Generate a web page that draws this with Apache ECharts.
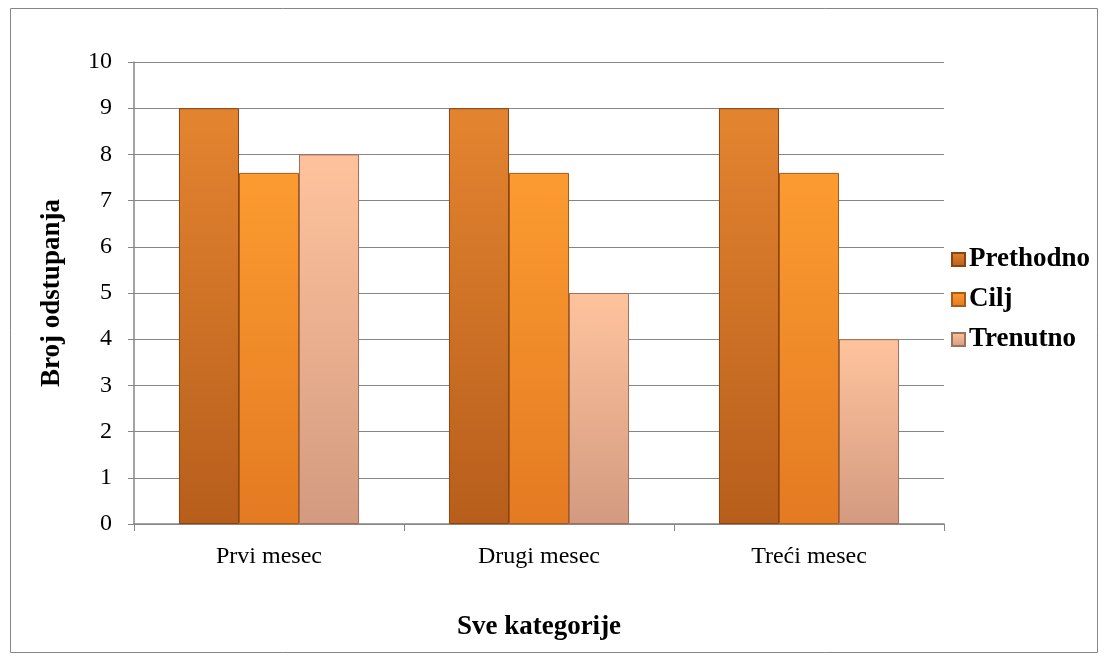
<!DOCTYPE html>
<html><head><meta charset="utf-8">
<script src="https://cdn.jsdelivr.net/npm/echarts@6/dist/echarts.min.js"></script>
<style>html,body{margin:0;padding:0;background:#fff}#c{width:1104px;height:657px}</style>
</head><body><div id="c"></div>
<script>
const categories = ['Prvi mesec', 'Drugi mesec', 'Treći mesec'];
const seriesNames = ['Prethodno', 'Cilj', 'Trenutno'];
const prethodno = [9, 9, 9];
const cilj = [7.6, 7.6, 7.6];
const trenutno = [8, 5, 4];
const yTicks = [0, 10, 1];

const font = "'Liberation Serif', 'Times New Roman', serif";
function grad(top, bottom) {
  return new echarts.graphic.LinearGradient(0, 0, 0, 1, [
    {offset: 0, color: top}, {offset: 0.04, color: top}, {offset: 1, color: bottom}
  ]);
}
const styles = [
  {color: grad('#e2832f', '#b75e1c'), borderColor: '#8a4410'},
  {color: grad('#fb9a30', '#e47a22'), borderColor: '#a85a18'},
  {color: grad('#fdc29c', '#d39a80'), borderColor: '#a0705a'}
];
const data = [prethodno, cilj, trenutno];
const chart = echarts.init(document.getElementById('c'));
chart.setOption({
  animation: false,
  grid: {left: 134, top: 62, right: 160, bottom: 133},
  legend: {
    orient: 'vertical', left: 946, top: 241, itemGap: 13,
    itemWidth: 13, itemHeight: 13, icon: 'rect', itemTextGap: 4,
    textStyle: {fontFamily: font, fontSize: 27, fontWeight: 'bold', color: '#000', padding: [0, 0, 0, -1]},
    data: seriesNames
  },
  xAxis: {
    type: 'category', data: categories,
    name: 'Sve kategorije', nameLocation: 'middle', nameGap: 90,
    nameTextStyle: {fontFamily: font, fontSize: 27, fontWeight: 'bold', color: '#000'},
    axisLine: {lineStyle: {color: '#868686', width: 1.5}},
    axisTick: {show: true, length: 7, lineStyle: {color: '#868686'}},
    axisLabel: {fontFamily: font, fontSize: 24, color: '#000', margin: 21}
  },
  yAxis: {
    type: 'value', min: yTicks[0], max: yTicks[1], interval: yTicks[2],
    name: 'Broj odstupanja', nameLocation: 'middle', nameGap: 68,
    nameTextStyle: {fontFamily: font, fontSize: 27, fontWeight: 'bold', color: '#000'},
    axisLine: {show: true, lineStyle: {color: '#868686', width: 1.5}},
    axisTick: {show: true, length: 6, lineStyle: {color: '#868686'}},
    axisLabel: {fontFamily: font, fontSize: 24, color: '#000', margin: 22},
    splitLine: {lineStyle: {color: '#868686', width: 1.2}}
  },
  series: seriesNames.map((n, i) => ({
    name: n, type: 'bar', data: data[i],
    barGap: '0%', barCategoryGap: '33.3%',
    itemStyle: Object.assign({borderWidth: 1}, styles[i])
  })),
  graphic: [{
    type: 'rect', shape: {x: 10.5, y: 8.5, width: 1087, height: 644},
    style: {fill: 'none', stroke: '#868686', lineWidth: 1}, silent: true, z: -1
  }]
});
</script></body></html>
